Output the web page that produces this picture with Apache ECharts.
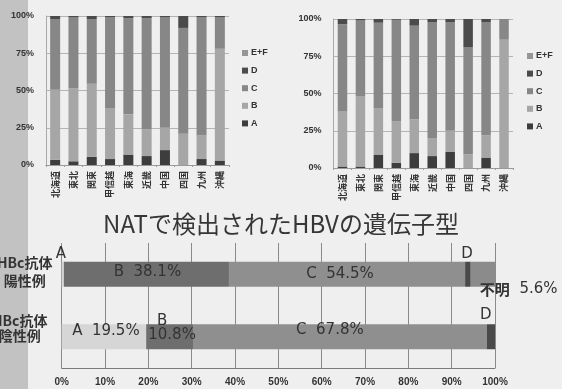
<!DOCTYPE html>
<html>
<head>
<meta charset="utf-8">
<script src="https://cdn.jsdelivr.net/npm/echarts@6/dist/echarts.min.js"></script>
<style>
  html, body { margin: 0; padding: 0; }
  #main { width: 562px; height: 389px; }
</style>
</head>
<body>
<div id="main"></div>
<script>
// Regions (top two charts)
const regions = ['北海道', '東北', '関東', '甲信越', '東海', '近畿', '中国', '四国', '九州', '沖縄'];
const genotypes = ['A', 'B', 'C', 'D', 'E+F'];
const legendOrder = ['E+F', 'D', 'C', 'B', 'A'];

// Left regional chart, share of each genotype (%)
const leftA  = [3.5, 2.5, 5.5, 4, 7, 6, 10, 0, 4, 3];
const leftB  = [47, 49, 49, 34, 27, 18, 15, 21, 16, 75];
const leftC  = [47.5, 47.5, 43.5, 61, 64.5, 74.5, 74, 71, 79, 21];
const leftD  = [2, 1, 2, 1, 1.5, 1.5, 1, 8, 1, 1];
const leftEF = [0, 0, 0, 0, 0, 0, 0, 0, 0, 0];

// Right regional chart, share of each genotype (%)
const rightA  = [1, 1, 9, 3.5, 10, 8, 11, 0, 7, 0];
const rightB  = [37, 47, 31, 28, 22.5, 12, 14, 9, 15, 86.5];
const rightC  = [58.5, 51, 57.5, 68, 63, 78, 73, 72, 76, 13.5];
const rightD  = [3.5, 1, 2.5, 0.5, 4.5, 2, 2, 19, 2, 0];
const rightEF = [0, 0, 0, 0, 0, 0, 0, 0, 0, 0];

// NAT-detected HBV genotypes by anti-HBc status (%)
const natGroups  = ['HBc抗体\n陽性例', 'HBc抗体\n陰性例'];
const natA       = [0.5, 19.5];
const natB       = [38.1, 10.8];
const natC       = [54.5, 67.8];
const natD       = [1.3, 1.9];
const natUnknown = [5.6, 0];
const pctTicks   = [0, 10, 20, 30, 40, 50, 60, 70, 80, 90, 100];

const regionColors = { 'A': '#3d3d3d', 'B': '#a6a6a6', 'C': '#878787', 'D': '#4b4b4b', 'E+F': '#969696' };
const natColors = { 'A': '#d6d6d6', 'B': '#6e6e6e', 'C': '#8f8f8f', 'D': '#4a4a4a', '不明': '#8b8b8b' };

const LATIN = '"Liberation Sans", "Noto Sans CJK JP", sans-serif';
const CJK = '"Noto Sans CJK JP", sans-serif';
const LABEL_FONT = '"DejaVu Sans", "Noto Sans CJK JP", sans-serif';

const chart = echarts.init(document.getElementById('main'), null, { renderer: 'canvas' });

function regionalSeries(axisIndex, valuesByGenotype, stack, width) {
  return genotypes.map((g, i) => ({
    type: 'bar',
    name: g,
    stack: stack,
    xAxisIndex: axisIndex,
    yAxisIndex: axisIndex,
    barWidth: width,
    data: valuesByGenotype[i],
    itemStyle: { color: regionColors[g] },
    emphasis: { disabled: true }
  }));
}

function regionXAxis(gridIndex) {
  return {
    type: 'category',
    gridIndex: gridIndex,
    data: regions,
    axisLine: { show: true, lineStyle: { color: '#9a9a9a' } },
    axisTick: { show: true, length: 2, lineStyle: { color: '#9a9a9a' } },
    axisLabel: {
      rotate: 90,
      margin: 6,
      fontSize: 9,
      fontWeight: 'bold',
      color: '#333',
      fontFamily: CJK
    }
  };
}

function regionYAxis(gridIndex) {
  return {
    type: 'value',
    gridIndex: gridIndex,
    min: 0,
    max: 100,
    interval: 25,
    axisLine: { show: true, lineStyle: { color: '#a8a8a8' } },
    axisTick: { show: false },
    splitLine: { lineStyle: { color: '#b4b4b4', width: 1 } },
    axisLabel: {
      formatter: '{value}%',
      margin: 12,
      fontSize: 9,
      fontWeight: 'bold',
      color: '#333',
      fontFamily: LATIN
    }
  };
}

function regionLegend(left, top) {
  return {
    orient: 'vertical',
    left: left,
    top: top,
    data: legendOrder,
    itemWidth: 6,
    itemHeight: 6,
    itemGap: 7.6,
    icon: 'rect',
    selectedMode: false,
    textStyle: { fontSize: 9, fontWeight: 'bold', color: '#333', fontFamily: LATIN, lineHeight: 10, padding: [0, 0, 0, -2] }
  };
}

const pctLabel = (p) => p.seriesName + '  ' + p.value + '%';
const natLabelBase = { show: true, fontSize: 15, color: '#333', fontFamily: LABEL_FONT };

const natSeries = [
  {
    name: 'A', color: natColors['A'],
    data: [
      { value: natA[0], label: Object.assign({}, natLabelBase, { position: 'top', distance: 0, offset: [-2, 0], formatter: 'A' }) },
      { value: natA[1], label: Object.assign({}, natLabelBase, { position: 'inside', offset: [2, -6], formatter: pctLabel }) }
    ]
  },
  {
    name: 'B', color: natColors['B'],
    data: [
      { value: natB[0], label: Object.assign({}, natLabelBase, { position: 'inside', offset: [1, -2], formatter: pctLabel }) },
      { value: natB[1], label: Object.assign({}, natLabelBase, {
          position: 'inside', offset: [2.5, -9], lineHeight: 14,
          formatter: (p) => '{t|' + p.seriesName + '}\n' + p.value + '%',
          rich: { t: { fontSize: 15, color: '#333', fontFamily: LABEL_FONT, lineHeight: 14, padding: [0, 20, 0, 0] } }
        }) }
    ]
  },
  {
    name: 'C', color: natColors['C'],
    data: [
      { value: natC[0], label: Object.assign({}, natLabelBase, { position: 'inside', offset: [-7, 0], formatter: pctLabel }) },
      { value: natC[1], label: Object.assign({}, natLabelBase, { position: 'inside', offset: [-10, -7], formatter: pctLabel }) }
    ]
  },
  {
    name: 'D', color: natColors['D'],
    data: [
      { value: natD[0], label: Object.assign({}, natLabelBase, { position: 'top', distance: 0, offset: [-1, 0], formatter: 'D' }) },
      { value: natD[1], label: Object.assign({}, natLabelBase, { position: 'top', distance: 2, offset: [-5, 0], formatter: 'D' }) }
    ]
  },
  {
    name: '不明', color: natColors['不明'],
    data: [
      { value: natUnknown[0], label: Object.assign({}, natLabelBase, {
          position: 'bottom', align: 'left', distance: 0, offset: [-3, -5],
          formatter: (p) => '{b|' + p.seriesName + '}  ' + p.value + '%',
          rich: { b: { fontSize: 15, fontWeight: 'bold', color: '#333', fontFamily: CJK } }
        }) },
      { value: natUnknown[1] }
    ]
  }
].map(s => ({
  type: 'bar',
  name: s.name,
  stack: 'nat',
  xAxisIndex: 2,
  yAxisIndex: 2,
  barWidth: 25,
  data: s.data,
  itemStyle: { color: s.color },
  emphasis: { disabled: true }
}));

// Group labels: the first sits a little high on its band, the second is tighter and shifted left/up
const groupLabelFormatter = (value, index) => {
  const lines = value.split('\n');
  if (index === 0) {
    return lines.map(l => '{p|' + l + '}').join('\n') + '\n{g0| }';
  }
  return lines.map(l => '{n|' + l + '}').join('\n') + '\n{g1| }';
};
const groupFont = { fontSize: 14, fontWeight: 'bold', color: '#333', fontFamily: CJK };

const option = {
  animation: false,
  backgroundColor: new echarts.graphic.LinearGradient(0, 0, 1, 0, [
    { offset: 0, color: '#c2c2c2' },
    { offset: 28 / 562, color: '#c2c2c2' },
    { offset: 28 / 562, color: '#efefef' },
    { offset: 1, color: '#efefef' }
  ]),
  title: {
    text: 'NATで検出されたHBVの遺伝子型',
    left: 'center',
    top: 207,
    textStyle: { fontSize: 24, fontWeight: 'normal', color: '#363636', fontFamily: CJK }
  },
  legend: [regionLegend(237, 43), regionLegend(522, 46)],
  grid: [
    { left: 46, top: 16, width: 183, height: 149, outerBoundsMode: 'none' },
    { left: 333.5, top: 19, width: 179.5, height: 149, outerBoundsMode: 'none' },
    { left: 61.7, top: 243, width: 433.3, height: 125, outerBoundsMode: 'none' }
  ],
  xAxis: [
    regionXAxis(0),
    regionXAxis(1),
    {
      type: 'value',
      gridIndex: 2,
      min: pctTicks[0],
      max: pctTicks[pctTicks.length - 1],
      interval: pctTicks[1] - pctTicks[0],
      axisLine: { show: true, lineStyle: { color: '#7a7a7a' } },
      axisTick: { show: false },
      splitLine: { lineStyle: { color: '#8a8a8a', width: 1 } },
      axisLabel: { formatter: '{value}%', margin: 9, fontSize: 10, fontWeight: 'bold', color: '#333', fontFamily: LATIN }
    }
  ],
  yAxis: [
    regionYAxis(0),
    regionYAxis(1),
    {
      type: 'category',
      gridIndex: 2,
      inverse: true,
      data: natGroups,
      axisLine: { show: false },
      axisTick: { show: false },
      splitLine: { show: false },
      axisLabel: {
        align: 'center',
        margin: 37,
        formatter: groupLabelFormatter,
        fontSize: 14,
        fontWeight: 'bold',
        color: '#333',
        fontFamily: CJK,
        rich: {
          p: Object.assign({ lineHeight: 18.5 }, groupFont),
          g0: { fontSize: 4, lineHeight: 5 },
          n: Object.assign({ lineHeight: 15, padding: [0, 10, 0, 0] }, groupFont),
          g1: { fontSize: 10, lineHeight: 18 }
        }
      }
    }
  ],
  series: [
    ...regionalSeries(0, [leftA, leftB, leftC, leftD, leftEF], 'left', 10),
    ...regionalSeries(1, [rightA, rightB, rightC, rightD, rightEF], 'right', 9.5),
    ...natSeries
  ]
};

chart.setOption(option);
</script>
</body>
</html>
